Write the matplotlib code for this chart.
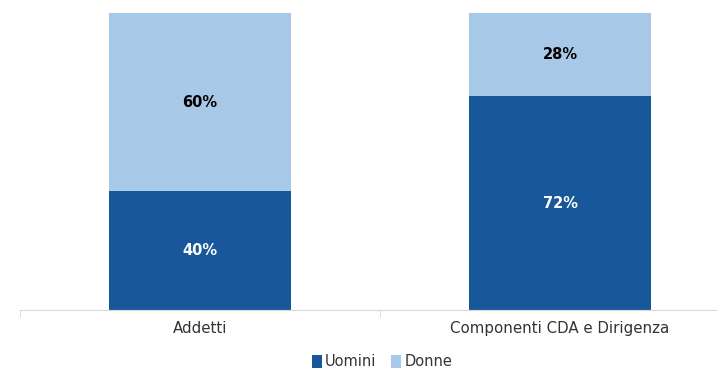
import matplotlib.pyplot as plt
import numpy as np

# data
categories = ['Addetti', 'Componenti CDA e Dirigenza']
uomini = [40, 72]
donne = [60, 28]

dark = '#18579A'
light = '#A8C8E8'

plt.rcParams['font.family'] = ['DejaVu Sans']

fig = plt.figure(figsize=(7.17, 3.68), dpi=100)
ax = fig.add_axes([20 / 717, 58 / 368, 720 / 717, 297 / 368])

x = np.arange(len(categories))
w = 0.505
b1 = ax.bar(x, uomini, w, color=dark, label='Uomini')
b2 = ax.bar(x, donne, w, bottom=uomini, color=light, label='Donne')

for i in range(len(categories)):
    ax.text(x[i], uomini[i] / 2, f'{uomini[i]}%', ha='center', va='center',
            color='white', fontsize=10.5, fontweight='bold')
    ax.text(x[i], uomini[i] + donne[i] / 2, f'{donne[i]}%', ha='center', va='center',
            color='black', fontsize=10.5, fontweight='bold')

ax.set_xlim(-0.5, 1.5)
ax.set_ylim(0, 100)
ax.set_yticks([])
ax.set_xticks(x)
ax.set_xticklabels(categories, fontsize=10.8, color='#333333')
ax.tick_params(axis='x', which='major', length=0, pad=8)
ax.set_xticks([-0.5, 0.5, 1.5], minor=True)
ax.tick_params(axis='x', which='minor', length=5, color='#D9D9D9')
for s in ['top', 'right', 'left']:
    ax.spines[s].set_visible(False)
ax.spines['bottom'].set_color('#D9D9D9')

fig.legend(handles=[b1, b2], loc='center', bbox_to_anchor=(382 / 717, 1 - 362 / 368),
           ncol=2, frameon=False, fontsize=10.5, handlelength=0.7, handleheight=0.9,
           handletextpad=0.2, columnspacing=1.0, labelcolor='#333333')

fig.savefig('out.png', dpi=100)
